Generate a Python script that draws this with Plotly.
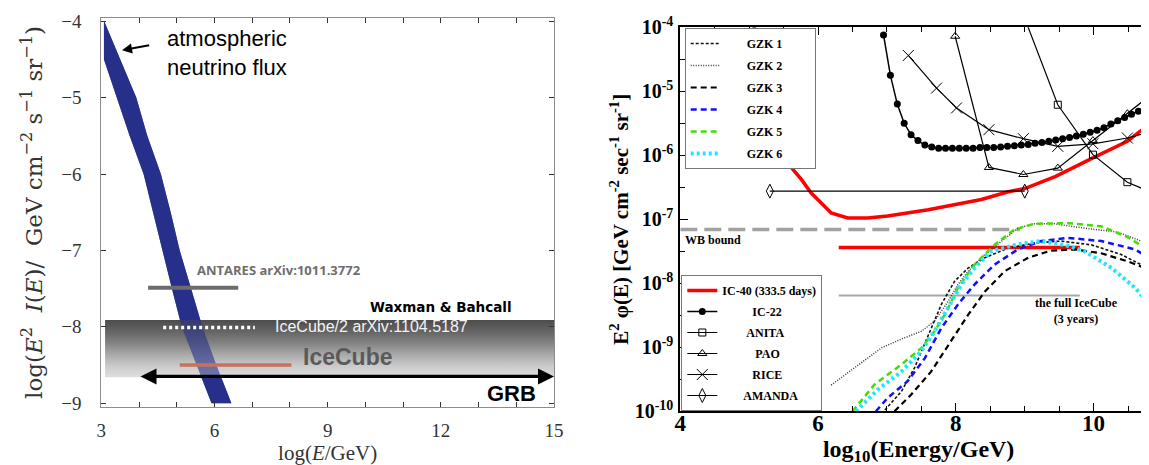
import numpy as np
import plotly.graph_objects as go

W, H = 1149, 465
NB = "\u00a0"

# ---------------- Left panel data ----------------
band_right_y = [-3.99, -4.5, -5.0, -5.5, -6.0, -6.5, -7.0, -7.5, -8.0, -8.5, -9.0]
band_right_x = [3.07, 3.50, 3.93, 4.22, 4.58, 4.84, 5.08, 5.38, 5.68, 6.05, 6.45]
band_left_y = [-9.0, -8.5, -8.0, -7.5, -7.0, -6.5, -6.0, -5.5, -5.0, -4.5]
band_left_x = [5.92, 5.52, 5.13, 4.87, 4.62, 4.36, 4.12, 3.75, 3.40, 3.07]

wb_box_x = [3.1, 15.0]
wb_box_y = [-7.91, -8.66]

antares_x = [4.24, 6.63]
antares_y = [-7.49, -7.49]
ic_half_x = [4.64, 7.07]
ic_half_y = [-8.01, -8.01]
icecube_x = [5.08, 8.04]
icecube_y = [-8.5, -8.5]
grb_x = [4.0, 15.0]
grb_y = [-8.65, -8.65]
atm_arrow_head = [3.55, -4.38]
atm_arrow_tail = [4.31, -4.31]

left_xticks = [3, 6, 9, 12, 15]
left_xminor = [4, 5, 7, 8, 10, 11, 13, 14]
left_yticks = [-9, -8, -7, -6, -5, -4]

# ---------------- Right panel data (log10 of E^2 phi) ----------------
ic22_x = [6.95, 7.05, 7.15, 7.25, 7.35, 7.45, 7.55, 7.65, 7.75, 7.85, 7.95, 8.05, 8.15, 8.25,
          8.35, 8.45, 8.55, 8.65, 8.75, 8.85, 8.95, 9.05, 9.15, 9.25, 9.35, 9.45, 9.55, 9.65,
          9.75, 9.85, 9.95, 10.05, 10.15, 10.25, 10.35, 10.45, 10.55, 10.65, 10.75, 10.85, 10.95]
ic22_l = [-4.12, -4.75, -5.20, -5.50, -5.68, -5.77, -5.84, -5.87, -5.89, -5.89, -5.89, -5.89, -5.89, -5.89,
          -5.88, -5.88, -5.88, -5.87, -5.86, -5.85, -5.84, -5.83, -5.81, -5.80, -5.78, -5.76, -5.74, -5.72,
          -5.70, -5.67, -5.64, -5.61, -5.57, -5.51, -5.46, -5.41, -5.36, -5.31, -5.25, -5.21, -5.17]

anita_x = [8.95, 9.48, 9.99, 10.49, 10.99]
anita_l = [-3.72, -5.21, -5.99, -6.42, -6.65]

pao_x = [7.99, 8.48, 8.98, 9.48, 9.99, 10.49, 10.99]
pao_l = [-4.14, -6.19, -6.30, -6.20, -5.77, -5.35, -4.92]

rice_x = [7.31, 7.72, 8.01, 8.48, 8.98, 9.48, 9.99, 10.49, 10.99]
rice_l = [-4.44, -4.95, -5.26, -5.60, -5.74, -5.86, -5.82, -5.73, -5.59]

amanda_x = [5.30, 9.00]
amanda_l = [-6.56, -6.56]

ic40_x = [5.05, 5.25, 5.45, 5.61, 5.76, 5.90, 6.05, 6.19, 6.43, 6.72, 7.01, 7.60, 8.37, 8.76,
          9.00, 9.45, 9.99, 10.49, 10.92]
ic40_l = [-3.90, -4.80, -5.60, -6.19, -6.38, -6.59, -6.75, -6.90, -6.98, -6.98, -6.95, -6.85, -6.69, -6.57,
          -6.52, -6.33, -6.04, -5.78, -5.42]

ic40_flat_x = [6.30, 9.80]
ic40_flat_l = [-7.44, -7.44]
full_ic_x = [6.30, 9.80]
full_ic_l = [-8.19, -8.19]
wb_x = [4.0, 8.93]
wb_l = [-7.16, -7.16]

gzk1_x = [6.97, 7.21, 7.40, 7.60, 7.79, 7.98, 8.18, 8.42, 8.76, 9.14, 9.53, 9.97, 10.40, 10.69, 10.92]
gzk1_l = [-9.98, -9.69, -9.32, -8.80, -8.33, -7.97, -7.76, -7.60, -7.45, -7.37, -7.34, -7.40, -7.55, -7.71, -7.81]

gzk2_x = [6.19, 6.53, 6.92, 7.21, 7.50, 7.69, 7.89, 8.03, 8.18, 8.42, 8.66, 8.90, 9.14, 9.43, 9.87,
          10.35, 10.69, 10.92]
gzk2_l = [-9.59, -9.32, -9.01, -8.87, -8.75, -8.59, -8.28, -8.02, -7.81, -7.55, -7.34, -7.14, -7.07, -7.07,
          -7.14, -7.20, -7.34, -7.45]

gzk3_x = [7.11, 7.35, 7.64, 7.93, 8.18, 8.42, 8.71, 9.05, 9.38, 9.72, 10.11, 10.50, 10.79, 10.92]
gzk3_l = [-10.0, -9.74, -9.38, -8.91, -8.49, -8.13, -7.81, -7.60, -7.49, -7.47, -7.53, -7.66, -7.78, -7.87]

gzk4_x = [6.84, 7.01, 7.30, 7.55, 7.79, 8.03, 8.27, 8.56, 8.90, 9.24, 9.63, 10.11, 10.60, 10.92]
gzk4_l = [-10.0, -9.79, -9.53, -9.17, -8.70, -8.33, -8.02, -7.71, -7.47, -7.34, -7.29, -7.34, -7.47, -7.68]

gzk5_x = [6.50, 6.82, 7.21, 7.50, 7.69, 7.84, 8.03, 8.27, 8.56, 8.85, 9.14, 9.63, 10.11, 10.50, 10.79, 10.92]
gzk5_l = [-10.0, -9.58, -9.27, -9.01, -8.75, -8.49, -8.07, -7.71, -7.40, -7.16, -7.07, -7.06, -7.11, -7.28,
          -7.48, -7.64]

gzk6_x = [6.55, 6.87, 7.21, 7.50, 7.69, 7.89, 8.08, 8.27, 8.51, 8.90, 9.24, 9.58, 9.87, 10.26, 10.60,
          10.79, 10.92]
gzk6_l = [-10.0, -9.66, -9.38, -9.06, -8.75, -8.39, -8.02, -7.76, -7.50, -7.39, -7.34, -7.40, -7.50, -7.76,
          -8.07, -8.30, -8.48]

right_xticks = [4, 6, 8, 10]
right_xminor = [4.5, 5, 5.5, 6.5, 7, 7.5, 8.5, 9, 9.5, 10.5]
right_ydec = [-10, -9, -8, -7, -6, -5, -4]
right_yhalf = [-9.5, -8.5, -7.5, -6.5, -5.5, -4.5]


def pw(v):
    return (10.0 ** np.array(v, dtype=float)).tolist()


fig = go.Figure()

SERIF = "Liberation Serif"
SANS = "Liberation Sans"
BAND = "#27308b"

# ---------------- Left panel traces ----------------
band_x = band_right_x + band_left_x + [band_right_x[0]]
band_y = band_right_y + band_left_y + [band_right_y[0]]
fig.add_trace(go.Scatter(x=band_x, y=band_y, mode="lines", fill="toself", fillcolor=BAND,
                         line=dict(width=0, color=BAND), showlegend=False, hoverinfo="skip",
                         xaxis="x", yaxis="y"))
box_x = [wb_box_x[0], wb_box_x[1], wb_box_x[1], wb_box_x[0], wb_box_x[0]]
box_y = [wb_box_y[0], wb_box_y[0], wb_box_y[1], wb_box_y[1], wb_box_y[0]]
fig.add_trace(go.Scatter(x=box_x, y=box_y, mode="lines", fill="toself",
                         fillgradient=dict(type="vertical", start=wb_box_y[1], stop=wb_box_y[0],
                                           colorscale=[[0, "#dedede"], [0.2, "#cacaca"],
                                                       [0.4, "#a8a8a8"], [0.6, "#828282"],
                                                       [0.8, "#646464"], [1, "#4c4c4c"]]),
                         line=dict(width=0), showlegend=False, hoverinfo="skip",
                         xaxis="x", yaxis="y"))
fig.add_trace(go.Scatter(x=band_x, y=band_y, mode="lines", fill="toself", fillcolor=BAND,
                         opacity=0.6, line=dict(width=0, color=BAND), showlegend=False,
                         hoverinfo="skip", xaxis="x", yaxis="y"))
fig.add_trace(go.Scatter(x=antares_x, y=antares_y, mode="lines", line=dict(color="#6c6c6c", width=4),
                         showlegend=False, hoverinfo="skip", xaxis="x", yaxis="y"))
fig.add_trace(go.Scatter(x=ic_half_x, y=ic_half_y, mode="lines",
                         line=dict(color="white", width=3.5, dash="3px,3px"),
                         showlegend=False, hoverinfo="skip", xaxis="x", yaxis="y"))
fig.add_trace(go.Scatter(x=icecube_x, y=icecube_y, mode="lines", line=dict(color="#c6725c", width=3.5),
                         showlegend=False, hoverinfo="skip", xaxis="x", yaxis="y"))


# ---------------- Right panel traces ----------------
def rtrace(x, l, name, legend, color, width, dash="solid", mode="lines", marker=None, show=True, rank=None):
    kw = dict(x=x, y=pw(l), mode=mode, name=name, line=dict(color=color, width=width, dash=dash),
              xaxis="x2", yaxis="y2", hoverinfo="skip", showlegend=show)
    if show:
        kw["legend"] = legend
        kw["legendgroup"] = name
        kw["legendrank"] = rank
    if marker is not None:
        kw["marker"] = marker
    fig.add_trace(go.Scatter(**kw))


rtrace(wb_x, wb_l, "wb", None, "#a2a2a2", 3.5, dash="17px,7px", show=False)
rtrace(full_ic_x, full_ic_l, "full", None, "#a8a8a8", 2, show=False)
rtrace(ic40_flat_x, ic40_flat_l, "ic40flat", None, "#ff0000", 3.5, show=False)

GL, GT = 7, 9
rtrace(gzk2_x, gzk2_l, NB * GL + "GZK 2" + NB * GT, "legend", "#3a3a3a", 1.5, dash="1px,1.5px", rank=2)
rtrace(gzk1_x, gzk1_l, NB * GL + "GZK 1" + NB * GT, "legend", "#111111", 1.6, dash="3px,2px", rank=1)
rtrace(gzk3_x, gzk3_l, NB * GL + "GZK 3" + NB * GT, "legend", "#000000", 2.2, dash="6px,4px", rank=3)
rtrace(gzk4_x, gzk4_l, NB * GL + "GZK 4" + NB * GT, "legend", "#1010ff", 2.5, dash="6px,4px", rank=4)
rtrace(gzk5_x, gzk5_l, NB * GL + "GZK 5" + NB * GT, "legend", "#44dd00", 2.5, dash="6px,4px", rank=5)
rtrace(gzk6_x, gzk6_l, NB * GL + "GZK 6" + NB * GT, "legend", "#22e5ff", 4, dash="3px,3px", rank=6)

rtrace(ic40_x, ic40_l, "IC-40 (333.5 days)", "legend2", "#ff0000", 3.5, rank=1)
rtrace(ic22_x, ic22_l, NB * 10 + "IC-22", "legend2", "black", 1.5, mode="lines+markers",
       marker=dict(symbol="circle", size=7, color="black"), rank=2)
rtrace(anita_x, anita_l, NB * 8 + "ANITA", "legend2", "black", 1.2, mode="lines+markers",
       marker=dict(symbol="square-open", size=7, color="black", line=dict(width=1)), rank=3)
rtrace(pao_x, pao_l, NB * 11 + "PAO", "legend2", "black", 1.2, mode="lines+markers",
       marker=dict(symbol="triangle-up-open", size=8, color="black", line=dict(width=1)), rank=4)
rtrace(rice_x, rice_l, NB * 10 + "RICE", "legend2", "black", 1.2, mode="lines+markers",
       marker=dict(symbol="x-thin-open", size=11, color="black", line=dict(width=1, color="black")), rank=5)
rtrace(amanda_x, amanda_l, NB * 7 + "AMANDA", "legend2", "black", 1.2, mode="lines+markers",
       marker=dict(symbol="diamond-tall-open", size=10, color="black", line=dict(width=1)), rank=6)

# ---------------- Annotations ----------------
ann = []
ann.append(dict(x=atm_arrow_head[0], y=atm_arrow_head[1], ax=atm_arrow_tail[0], ay=atm_arrow_tail[1],
                xref="x", yref="y", axref="x", ayref="y", text="", showarrow=True,
                arrowhead=2, arrowsize=1, arrowwidth=2, arrowcolor="black"))
ann.append(dict(x=grb_x[1], y=grb_y[1], ax=grb_x[0], ay=grb_y[0], xref="x", yref="y", axref="x", ayref="y",
                text="", showarrow=True, arrowhead=2, arrowsize=1, arrowwidth=3.2, arrowside="end+start",
                arrowcolor="black"))
ann.append(dict(x=4.69, y=-4.42, xref="x", yref="y", text="atmospheric<br>neutrino flux", showarrow=False,
                xanchor="left", yanchor="middle", align="left",
                font=dict(family=SANS, size=22, color="black")))
ann.append(dict(x=5.48, y=-7.26, xref="x", yref="y", text="ANTARES arXiv:1011.3772", showarrow=False,
                xanchor="left", yanchor="middle", font=dict(family="Open Sans", size=13, color="#6e6e6e",
                                                           weight="bold")))
ann.append(dict(x=12.01, y=-7.74, xref="x", yref="y", text="Waxman &amp; Bahcall", showarrow=False,
                xanchor="center", yanchor="middle", font=dict(family="DejaVu Sans", size=13.5, color="black",
                                                             weight="bold")))
ann.append(dict(x=7.55, y=-8.0, xref="x", yref="y", text="IceCube/2 arXiv:1104.5187", showarrow=False,
                xanchor="left", yanchor="middle", font=dict(family=SANS, size=16, color="#f2f2f2")))
ann.append(dict(x=9.53, y=-8.4, xref="x", yref="y", text="IceCube", showarrow=False,
                xanchor="center", yanchor="middle", font=dict(family=SANS, size=23, color="#5a5a5a",
                                                             weight="bold")))
ann.append(dict(x=13.87, y=-8.87, xref="x", yref="y", text="GRB", showarrow=False,
                xanchor="center", yanchor="middle", font=dict(family=SANS, size=22, color="black",
                                                             weight="bold")))
# right panel texts (log-axis annotation coordinates are log10)
ann.append(dict(x=4.04, y=-7.33, xref="x2", yref="y2", text="WB bound", showarrow=False,
                xanchor="left", yanchor="middle", font=dict(family=SERIF, size=12, color="black",
                                                           weight="bold")))
ann.append(dict(x=9.75, y=-8.44, xref="x2", yref="y2", text="the full IceCube<br>(3 years)", showarrow=False,
                xanchor="center", yanchor="middle", align="center",
                font=dict(family=SERIF, size=12, color="black", weight="bold")))

fig.update_layout(
    width=W, height=H, autosize=False,
    margin=dict(l=0, r=0, t=0, b=0, pad=0),
    paper_bgcolor="white", plot_bgcolor="white",
    annotations=ann,
    xaxis=dict(domain=[93.3 / W, 546 / W], range=[3, 15], anchor="y", automargin=False,
               tickmode="array", tickvals=left_xticks,
               ticks="inside", ticklen=5, tickcolor="#333333", tickwidth=1,
               minor=dict(tickmode="array", tickvals=left_xminor, ticks="inside", ticklen=5,
                          tickcolor="#333333", tickwidth=1, showgrid=False),
               showline=True, linecolor="#8c8c8c", linewidth=1, mirror="ticks",
               showgrid=False, zeroline=False, ticklabelstandoff=6,
               tickfont=dict(family=SERIF, size=19, color="#333333"),
               title=dict(text="log(<i>E</i>/GeV)", standoff=4,
                          font=dict(family=SERIF, size=21, color="#333333"))),
    yaxis=dict(domain=[1 - 399 / H, 1 - 10 / H], range=[-9.05, -3.957], anchor="x", automargin=False,
               tickmode="array", tickvals=left_yticks,
               ticks="inside", ticklen=5, tickcolor="#333333", tickwidth=1,
               showline=True, linecolor="#8c8c8c", linewidth=1, mirror="ticks",
               showgrid=False, zeroline=False, ticklabelstandoff=15,
               tickfont=dict(family=SERIF, size=19, color="#333333"),
               title=dict(text="log(<i>E</i><sup>2</sup>  <i>I</i>(<i>E</i>)/  GeV cm<sup>−2</sup> s<sup>−1</sup> sr<sup>−1</sup>)",
                          standoff=12, font=dict(family="DejaVu Serif", size=23, color="#333333"))),
    xaxis2=dict(domain=[672.3 / W, 1.0], range=[4, 10.92], anchor="y2", automargin=False,
                tickmode="array", tickvals=right_xticks,
                ticks="inside", ticklen=8, tickcolor="black", tickwidth=1.2,
                minor=dict(tickmode="array", tickvals=right_xminor, ticks="inside", ticklen=5,
                           tickcolor="black", tickwidth=1.2, showgrid=False),
                showline=True, linecolor="black", linewidth=2, mirror="ticks",
                showgrid=False, zeroline=False, ticklabelstandoff=-10,
                tickfont=dict(family=SERIF, size=23, color="black", weight="bold"),
                title=dict(text="log<sub>10</sub>(Energy/GeV)", standoff=0,
                           font=dict(family=SERIF, size=24, color="black", weight="bold"))),
    yaxis2=dict(domain=[1 - 403.3 / H, 1 - 19.3 / H], type="log", range=[-10, -4], anchor="x2",
                automargin=False,
                tickmode="array", tickvals=pw(right_ydec),
                ticktext=["10<sup>-%d</sup>" % (-d) for d in right_ydec],
                ticks="inside", ticklen=8, tickcolor="black", tickwidth=1.2,
                minor=dict(tickmode="array", tickvals=pw(right_yhalf), ticks="inside", ticklen=5,
                           tickcolor="black", tickwidth=1.2, showgrid=False),
                showline=True, linecolor="black", linewidth=2, mirror="ticks",
                showgrid=False, zeroline=False, ticklabelstandoff=1,
                tickfont=dict(family=SERIF, size=20, color="black", weight="bold"),
                title=dict(text="E<sup>2</sup> φ(E) [GeV cm<sup>-2</sup> sec<sup>-1</sup> sr<sup>-1</sup>]",
                           standoff=0, font=dict(family=SERIF, size=21, color="black", weight="bold"))),
    legend=dict(x=676.7 / W, y=1 - 20 / H, xanchor="left", yanchor="top",
                bgcolor="white", bordercolor="#777777", borderwidth=1,
                font=dict(family=SERIF, size=12, color="black", weight="bold"),
                traceorder="grouped", tracegroupgap=3, itemwidth=30),
    legend2=dict(x=673.3 / W, y=1 - 403 / H, xanchor="left", yanchor="bottom",
                 bgcolor="white", bordercolor="#777777", borderwidth=1,
                 font=dict(family=SERIF, size=12, color="black", weight="bold"),
                 traceorder="grouped", tracegroupgap=2, itemwidth=30),
)

fig.write_html("out.html")
